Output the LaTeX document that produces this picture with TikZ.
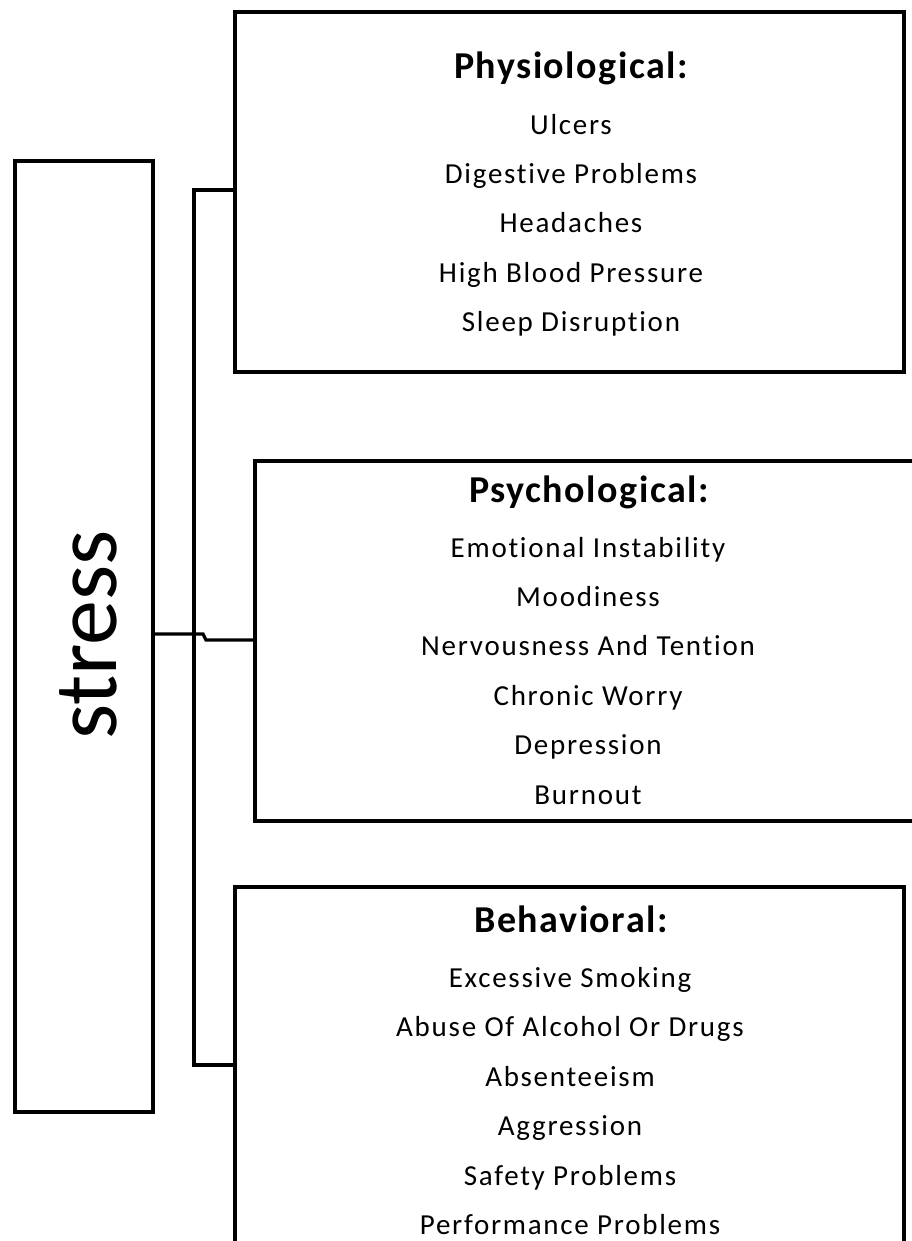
\documentclass[tikz,border=0pt]{standalone}
\usepackage{fontspec}
\setmainfont{Carlito}[Ligatures=NoCommon]
\begin{document}
\begin{tikzpicture}[x=1pt,y=-1pt,
  frame/.style={draw=black, line width=3.6pt, rectangle, inner sep=0pt},
  link/.style={draw=black, line width=3.2pt},
  item/.style={anchor=base, inner sep=0pt, text=black,
    font=\fontsize{29}{32}\selectfont\addfontfeatures{LetterSpace=6}},
  head/.style={anchor=base, inner sep=0pt, text=black,
    font=\fontsize{38}{42}\selectfont\bfseries\addfontfeatures{LetterSpace=4}}]
\useasboundingbox (0,0) rectangle (912,1241);
\clip (0,0) rectangle (912,1241);

% main box with the rotated title
\node[frame, minimum width=138pt, minimum height=951pt] (stress) at (84,636.5) {};
\node[rotate=90, inner sep=0pt, font=\fontsize{90}{96}\selectfont] (title) at (88,635) {stress};

% the three category boxes
\node[frame, minimum width=669pt, minimum height=359.5pt] (phys) at (569.5,192) {};
\node[frame, minimum width=669pt, minimum height=360pt] (psych) at (589.5,641) {};
\node[frame, minimum width=669pt, minimum height=360pt] (beh) at (569.5,1067) {};

% bracket joining the boxes
\coordinate (j1) at (194,190);
\coordinate (j3) at (194,1065);
\draw[link] (j1 -| phys.west) -- (j1) -- (j3) -- (j3 -| beh.west);
\coordinate (m1) at (203,634);
\coordinate (m2) at (206,640);
\draw[link] (stress.east |- m1) -- (m1) -- (m2) -- (psych.west |- m2);

% Physiological
\node[head] (ph) at (571,79) {Physiological:};
\node[item] (p1) at (571,135) {Ulcers};
\node[item] (p2) at (571,184) {Digestive Problems};
\node[item] (p3) at (571,233) {Headaches};
\node[item] (p4) at (571,282) {High Blood Pressure};
\node[item] (p5) at (571,331) {Sleep Disruption};

% Psychological
\node[head] (sh) at (589,502) {Psychological:};
\node[item] (s1) at (588,557) {Emotional Instability};
\node[item] (s2) at (588,606) {Moodiness};
\node[item] (s3) at (588,655) {Nervousness And Tention};
\node[item] (s4) at (588,705) {Chronic Worry};
\node[item] (s5) at (588,754) {Depression};
\node[item] (s6) at (588,804) {Burnout};

% Behavioral
\node[head] (bh) at (571,932) {Behavioral:};
\node[item] (b1) at (570,987) {Excessive Smoking};
\node[item] (b2) at (570,1036) {Abuse Of Alcohol Or Drugs};
\node[item] (b3) at (570,1086) {Absenteeism};
\node[item] (b4) at (570,1135) {Aggression};
\node[item] (b5) at (570,1185) {Safety Problems};
\node[item] (b6) at (570,1234) {Performance Problems};
\end{tikzpicture}
\end{document}
